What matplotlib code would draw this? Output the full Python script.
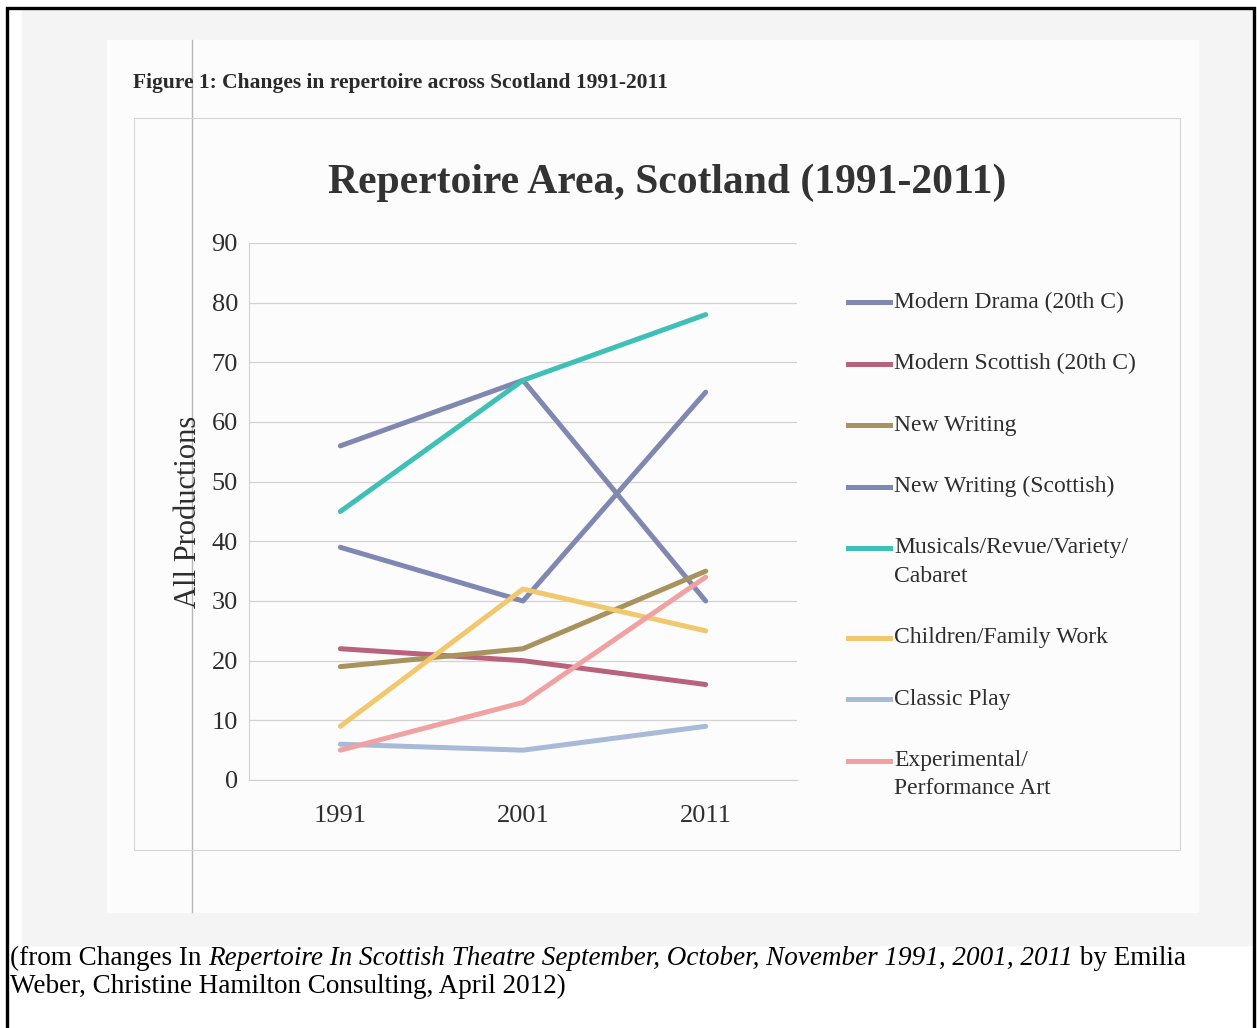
import matplotlib.pyplot as plt
from matplotlib.patches import Rectangle
from matplotlib.lines import Line2D

plt.rcParams['font.family'] = ['Liberation Serif', 'DejaVu Serif']

years = ['1991', '2001', '2011']
modern_drama = [56, 67, 30]
modern_scottish = [22, 20, 16]
new_writing = [19, 22, 35]
new_writing_scot = [39, 30, 65]
musicals = [45, 67, 78]
children = [9, 32, 25]
classic_play = [6, 5, 9]
experimental = [5, 13, 34]

names = ['Modern Drama (20th C)', 'Modern Scottish (20th C)', 'New Writing',
         'New Writing (Scottish)', 'Musicals/Revue/Variety/\nCabaret',
         'Children/Family Work', 'Classic Play', 'Experimental/\nPerformance Art']
series = [modern_drama, modern_scottish, new_writing, new_writing_scot,
          musicals, children, classic_play, experimental]
colors = ['#8088b0', '#b8627c', '#a8925e', '#7f88b2',
          '#3fc0b6', '#f2c86e', '#a9b9d8', '#f0a2a2']

W, H = 1257, 1028
fig = plt.figure(figsize=(W / 100, H / 100), dpi=100)
fig.patch.set_facecolor('white')


def fx(x):
    return x / W


def fy(y):
    return 1 - y / H


# scanned page look
fig.patches.append(Rectangle((fx(22), fy(945)), (1253 - 22) / W, (945 - 10) / H,
                             transform=fig.transFigure, color='#f4f4f4', zorder=-5))
fig.patches.append(Rectangle((fx(107), fy(912)), (1198 - 107) / W, (912 - 40) / H,
                             transform=fig.transFigure, color='#fcfcfc', zorder=-4))
fig.patches.append(Rectangle((fx(134), fy(850)), (1180 - 134) / W, (850 - 118) / H,
                             transform=fig.transFigure, fill=False,
                             edgecolor='#d6d6d6', lw=0.8, zorder=-3))
fig.lines.append(Line2D([fx(192), fx(192)], [fy(40), fy(912)], transform=fig.transFigure,
                        color='#b8b8b8', lw=1.0, zorder=-3))
fig.patches.append(Rectangle((fx(6.5), -0.02), (1253.5 - 6.5) / W, fy(8) + 0.02,
                             transform=fig.transFigure, fill=False,
                             edgecolor='black', lw=2.4, zorder=5))

ax = fig.add_axes([fx(249), fy(780), (797 - 249) / W, (780 - 243) / H])
ax.patch.set_alpha(0)

x = range(len(years))
for vals, c in zip(series, colors):
    ax.plot(x, vals, color=c, lw=3.6, solid_capstyle='round', zorder=3)

ax.set_xlim(-0.5, 2.5)
ax.set_ylim(0, 90)
ax.set_yticks(range(0, 100, 10))
ax.set_xticks(list(x))
ax.set_xticklabels(years)
ax.grid(axis='y', color='#d2d2d2', lw=0.9)
ax.set_axisbelow(True)
for s in ['top', 'right']:
    ax.spines[s].set_visible(False)
ax.spines['left'].set_color('#d2d2d2')
ax.spines['bottom'].set_color('#d2d2d2')
ax.tick_params(axis='both', length=0, labelsize=19, labelcolor='#2e2e2e')
ax.tick_params(axis='y', pad=8)
ax.tick_params(axis='x', pad=18)
ax.set_ylabel('All Productions', fontsize=22, color='#2e2e2e')
ax.yaxis.set_label_coords((203 - 249) / 548, 0.5)

# legend drawn to match the Excel layout (handle on first line)
y0 = 302
extra = 0
for i, (name, c) in enumerate(zip(names, colors)):
    yy = y0 + 61.5 * i + 28 * extra
    fig.lines.append(Line2D([fx(848), fx(890)], [fy(yy), fy(yy)], transform=fig.transFigure,
                            color=c, lw=3.6, zorder=3))
    for k, line in enumerate(name.split('\n')):
        fig.text(fx(894), fy(yy + 28 * k), line, fontsize=17, color='#2e2e2e', va='center')
    extra += name.count('\n')

fig.text(fx(667), fy(183), 'Repertoire Area, Scotland (1991-2011)', fontsize=30,
         fontweight='bold', color='#333333', ha='center', va='center')
fig.text(fx(133), fy(83), 'Figure 1: Changes in repertoire across Scotland 1991-2011',
         fontsize=15.5, fontweight='bold', color='#2a2a2a', va='center')

# source caption with italic title
fig.canvas.draw()
r = fig.canvas.get_renderer()
pieces = [('(from Changes In ', 'normal'),
          ('Repertoire In Scottish Theatre September, October, November 1991, 2001, 2011', 'italic'),
          (' by Emilia', 'normal')]
xp = 10
for s, st in pieces:
    t = fig.text(fx(xp), fy(965), s, fontsize=19.5, style=st, color='black', va='baseline')
    xp = t.get_window_extent(r).x1
fig.text(fx(10), fy(993), 'Weber, Christine Hamilton Consulting, April 2012)', fontsize=19.5,
         color='black', va='baseline')

fig.savefig('out.png', dpi=100)
